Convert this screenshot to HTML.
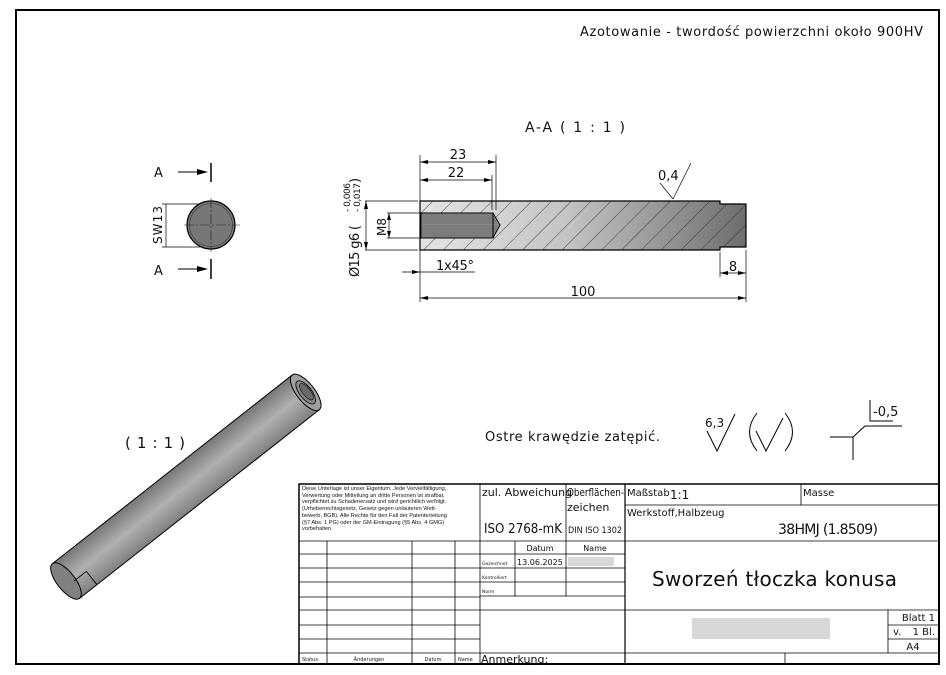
<!DOCTYPE html>
<html><head><meta charset="utf-8"><style>
html,body{margin:0;padding:0;background:#fff}
svg{display:block}
text{font-family:"DejaVu Sans","Liberation Sans",sans-serif;fill:#111}
.s{font-family:"Liberation Sans",sans-serif;font-size:5.6px}
</style></head><body>
<svg width="946" height="675" viewBox="0 0 946 675" xmlns="http://www.w3.org/2000/svg">
<defs>
<linearGradient id="g1" x1="0" x2="1" y1="0" y2="0">
<stop offset="0" stop-color="#e4e4e4"/><stop offset="0.45" stop-color="#c4c4c4"/><stop offset="1" stop-color="#6e6e6e"/></linearGradient>
<linearGradient id="cyl" x1="0" x2="0" y1="0" y2="1">
<stop offset="0" stop-color="#777"/><stop offset="0.5" stop-color="#b0b0b0"/><stop offset="1" stop-color="#808080"/></linearGradient>
<pattern id="h" width="14" height="14" patternUnits="userSpaceOnUse" patternTransform="rotate(45)">
<line x1="0" y1="0" x2="0" y2="14" stroke="#222" stroke-width="0.8"/></pattern>
</defs>
<rect x="16" y="10" width="923" height="654" fill="none" stroke="#000" stroke-width="2"/>
<text x="580" y="36" font-size="13" textLength="343" lengthAdjust="spacing">Azotowanie - twordość powierzchni około 900HV</text>
<text x="525" y="132" font-size="14" textLength="100" lengthAdjust="spacing">A-A ( 1 : 1 )</text>

<!-- left view -->
<text x="154" y="177" font-size="13">A</text>
<line x1="178" y1="172" x2="205" y2="172" stroke="#000"/><polygon points="197,169 208,172 197,175" fill="#000"/>
<line x1="211" y1="163" x2="211" y2="182" stroke="#000" stroke-width="1.5"/>
<text x="154" y="275" font-size="13">A</text>
<line x1="178" y1="269" x2="205" y2="269" stroke="#000"/><polygon points="197,266 208,269 197,272" fill="#000"/>
<line x1="211" y1="259" x2="211" y2="279" stroke="#000" stroke-width="1.5"/>
<circle cx="211" cy="225" r="24" fill="#777" stroke="#000" stroke-width="1.2"/>
<circle cx="211" cy="225" r="21.5" fill="none" stroke="#333" stroke-width="0.6"/>
<line x1="184" y1="225" x2="240" y2="225" stroke="#222" stroke-width="0.6" stroke-dasharray="10,2,2,2"/>
<line x1="211" y1="198" x2="211" y2="252" stroke="#222" stroke-width="0.6" stroke-dasharray="10,2,2,2"/>
<line x1="162" y1="204" x2="200" y2="204" stroke="#000" stroke-width="0.7"/>
<line x1="162" y1="247" x2="200" y2="247" stroke="#000" stroke-width="0.7"/>
<line x1="166" y1="204" x2="166" y2="247" stroke="#000" stroke-width="0.7"/>
<text transform="translate(162,244) rotate(-90)" font-size="12" textLength="38" lengthAdjust="spacing">SW13</text>

<!-- section -->
<polygon points="420,201 720,201 720,204 746,204 746,247 720,247 720,250 420,250" fill="url(#g1)" stroke="#000" stroke-width="1.2"/>
<polygon points="420,201 720,201 720,204 746,204 746,247 720,247 720,250 420,250" fill="url(#h)"/>
<polygon points="421,213 493,213 500,225 493,238 421,238" fill="#8a8a8a" stroke="#000"/>
<g stroke="#555" stroke-width="0.5">
<line x1="421" y1="215" x2="493" y2="215"/><line x1="421" y1="217" x2="494" y2="217"/><line x1="421" y1="219" x2="495" y2="219"/><line x1="421" y1="221" x2="496" y2="221"/><line x1="421" y1="223" x2="497" y2="223"/><line x1="421" y1="226" x2="497" y2="226"/><line x1="421" y1="228" x2="497" y2="228"/><line x1="421" y1="230" x2="496" y2="230"/><line x1="421" y1="232" x2="495" y2="232"/><line x1="421" y1="234" x2="494" y2="234"/><line x1="421" y1="236" x2="493" y2="236"/></g>
<line x1="493" y1="213" x2="493" y2="238" stroke="#000"/>
<g stroke="#000" stroke-width="0.7" fill="none">
<line x1="420" y1="155" x2="420" y2="302"/>
<line x1="496" y1="155" x2="496" y2="210"/>
<line x1="492" y1="175" x2="492" y2="210"/>
<line x1="420" y1="162" x2="496" y2="162"/>
<line x1="420" y1="180" x2="492" y2="180"/>
<line x1="365" y1="201" x2="418" y2="201"/><line x1="365" y1="250" x2="418" y2="250"/>
<line x1="366" y1="201" x2="366" y2="250"/>
<line x1="387" y1="213" x2="420" y2="213"/><line x1="387" y1="238" x2="420" y2="238"/>
<line x1="389" y1="213" x2="389" y2="238"/>
<line x1="402" y1="272" x2="475" y2="272"/>
<line x1="420" y1="298" x2="746" y2="298"/>
<line x1="746" y1="250" x2="746" y2="302"/>
<line x1="720" y1="252" x2="720" y2="277"/>
<line x1="720" y1="273" x2="746" y2="273"/>
<line x1="673" y1="199" x2="660" y2="183"/><line x1="673" y1="199" x2="691" y2="163"/>
</g>
<g fill="#000">
<polygon points="420,162 428,160 428,164"/><polygon points="496,162 488,160 488,164"/>
<polygon points="420,180 428,178 428,182"/><polygon points="492,180 484,178 484,182"/>
<polygon points="366,201 364,209 368,209"/><polygon points="366,250 364,242 368,242"/>
<polygon points="389,213 387,220 391,220"/><polygon points="389,238 387,231 391,231"/>
<polygon points="420,272 412,270 412,274"/>
<polygon points="420,298 428,296 428,300"/><polygon points="746,298 738,296 738,300"/>
<polygon points="720,273 728,271 728,275"/><polygon points="746,273 738,271 738,275"/>
</g>
<text x="458" y="159" font-size="13" text-anchor="middle">23</text>
<text x="456" y="177" font-size="13" text-anchor="middle">22</text>
<text x="436" y="270" font-size="13" textLength="38" lengthAdjust="spacing">1x45°</text>
<text x="583" y="296" font-size="13" text-anchor="middle">100</text>
<text x="733" y="271" font-size="13" text-anchor="middle">8</text>
<text x="658" y="180" font-size="13">0,4</text>
<text transform="translate(386,236) rotate(-90)" font-size="12">M8</text>
<text transform="translate(359,277) rotate(-90)" font-size="13" textLength="52" lengthAdjust="spacing">Ø15 g6 (</text>
<text transform="translate(350,212) rotate(-90)" font-size="9" textLength="29" lengthAdjust="spacing">- 0,006</text>
<text transform="translate(360,212) rotate(-90)" font-size="9" textLength="29" lengthAdjust="spacing">- 0,017</text>
<text transform="translate(359,183) rotate(-90)" font-size="13">)</text>

<!-- 3D -->
<text x="125" y="448" font-size="15" textLength="60" lengthAdjust="spacing">( 1 : 1 )</text>
<g transform="translate(66,581) rotate(-38.2)">
<rect x="0" y="-22" width="305" height="44" fill="url(#cyl)" stroke="#000" stroke-width="1"/>
<ellipse cx="0" cy="0" rx="9" ry="22" fill="#808080" stroke="#000"/>
<ellipse cx="305" cy="0" rx="9" ry="22" fill="#a0a0a0" stroke="#000"/>
<ellipse cx="305" cy="0" rx="6" ry="14" fill="#8a8a8a" stroke="#000" stroke-width="0.8"/>
<ellipse cx="306" cy="0" rx="4" ry="10" fill="#6a6a6a" stroke="#000" stroke-width="0.6"/>
<polyline points="6,5 22,5 22,22" fill="none" stroke="#000" stroke-width="0.9"/>
</g>

<!-- notes -->
<text x="485" y="441" font-size="13" textLength="175" lengthAdjust="spacing">Ostre krawędzie zatępić.</text>
<text x="705" y="427" font-size="12">6,3</text>
<polyline points="707,431 717,451 735,414" fill="none" stroke="#000"/>
<path d="M757,413 Q742,432 757,451" fill="none" stroke="#000"/>
<path d="M785,413 Q800,432 785,451" fill="none" stroke="#000"/>
<polyline points="756,431 766,451 783,418" fill="none" stroke="#000"/>
<polyline points="830,437 853,437 853,460" fill="none" stroke="#000"/>
<polyline points="853,437 865,426 902,426" fill="none" stroke="#000"/>
<polyline points="870,400 870,421 893,421" fill="none" stroke="#000"/>
<text x="873" y="416" font-size="13">-0,5</text>

<!-- title block -->
<g stroke="#000" stroke-width="0.8" fill="none">
<rect x="299" y="484" width="640" height="180" stroke-width="1.5"/>
<line x1="480" y1="484" x2="480" y2="664"/>
<line x1="566" y1="484" x2="566" y2="541"/>
<line x1="625" y1="484" x2="625" y2="664" stroke-width="1.2"/>
<line x1="801" y1="484" x2="801" y2="505"/>
<line x1="625" y1="505" x2="939" y2="505"/>
<line x1="299" y1="541" x2="939" y2="541"/>
<line x1="625" y1="610" x2="939" y2="610"/>
<line x1="480" y1="610" x2="625" y2="610"/>
<line x1="299" y1="653" x2="939" y2="653"/>
<line x1="785" y1="653" x2="785" y2="664"/>
<line x1="888" y1="610" x2="888" y2="653"/>
<line x1="888" y1="625" x2="939" y2="625"/>
<line x1="888" y1="639" x2="939" y2="639"/>
<line x1="327" y1="541" x2="327" y2="664"/>
<line x1="412" y1="541" x2="412" y2="664"/>
<line x1="455" y1="541" x2="455" y2="664"/>
<line x1="515" y1="541" x2="515" y2="596"/>
<line x1="566" y1="541" x2="566" y2="596"/>
<line x1="480" y1="554" x2="625" y2="554"/>
<line x1="480" y1="568" x2="625" y2="568"/>
<line x1="480" y1="582" x2="625" y2="582"/>
<line x1="480" y1="596" x2="625" y2="596"/>
<line x1="299" y1="554" x2="480" y2="554"/>
<line x1="299" y1="568" x2="480" y2="568"/>
<line x1="299" y1="582" x2="480" y2="582"/>
<line x1="299" y1="597" x2="480" y2="597"/>
<line x1="299" y1="610" x2="480" y2="610"/>
<line x1="299" y1="625" x2="480" y2="625"/>
<line x1="299" y1="639" x2="480" y2="639"/>
</g>
<text class="s" x="302" y="490">Diese Unterlage ist unser Eigentum. Jede Vervielfältigung,</text>
<text class="s" x="302" y="497">Verwertung oder Mitteilung an dritte Personen ist strafbar,</text>
<text class="s" x="302" y="503">verpflichtet zu Schadenersatz und wird gerichtlich verfolgt.</text>
<text class="s" x="302" y="510">(Urheberrechtsgesetz, Gesetz gegen unlauteren Wett-</text>
<text class="s" x="302" y="517">bewerb, BGB). Alle Rechte für den Fall der Patenterteilung</text>
<text class="s" x="302" y="524">(§7 Abs. 1 PG) oder der GM-Eintragung (§5 Abs. 4 GMG)</text>
<text class="s" x="302" y="530">vorbehalten.</text>
<text x="482" y="496" font-size="11">zul. Abweichung</text>
<text x="484" y="533" font-size="13" textLength="78" lengthAdjust="spacingAndGlyphs">ISO 2768-mK</text>
<text x="567" y="496" font-size="10.5" textLength="57" lengthAdjust="spacingAndGlyphs">Oberflächen-</text>
<text x="567" y="511" font-size="11">zeichen</text>
<text x="568" y="533" font-size="9" textLength="54" lengthAdjust="spacingAndGlyphs">DIN ISO 1302</text>
<text x="627" y="496" font-size="10">Maßstab</text><text x="670" y="499" font-size="12">1:1</text>
<text x="803" y="496" font-size="10">Masse</text>
<text x="627" y="516" font-size="10">Werkstoff,Halbzeug</text>
<text x="778" y="534" font-size="14" textLength="100" lengthAdjust="spacing">38HMJ (1.8509)</text>
<text x="540" y="551" font-size="8" text-anchor="middle">Datum</text>
<text x="595" y="551" font-size="8" text-anchor="middle">Name</text>
<text x="482" y="565" font-size="4.5">Gezeichnet</text>
<text x="517" y="565" font-size="8">13.06.2025</text>
<rect x="568" y="557" width="46" height="9" fill="#d8d8d8"/>
<text x="482" y="579" font-size="4.5">Kontrolliert</text>
<text x="482" y="593" font-size="4.5">Norm</text>
<text x="652" y="586" font-size="20" textLength="245" lengthAdjust="spacing">Sworzeń tłoczka konusa</text>
<rect x="692" y="618" width="138" height="21" fill="#d8d8d8"/>
<text x="935" y="621" font-size="10" text-anchor="end">Blatt 1</text>
<text x="893" y="635" font-size="10">v.</text><text x="935" y="635" font-size="10" text-anchor="end">1 Bl.</text>
<text x="913" y="650" font-size="10" text-anchor="middle">A4</text>
<text x="302" y="661" font-size="5">Status</text>
<text x="369" y="661" font-size="5" text-anchor="middle">Änderungen</text>
<text x="433" y="661" font-size="5" text-anchor="middle">Datum</text>
<text x="458" y="661" font-size="5">Name</text>
<text x="481" y="663" font-size="11">Anmerkung:</text>
</svg>
</body></html>
